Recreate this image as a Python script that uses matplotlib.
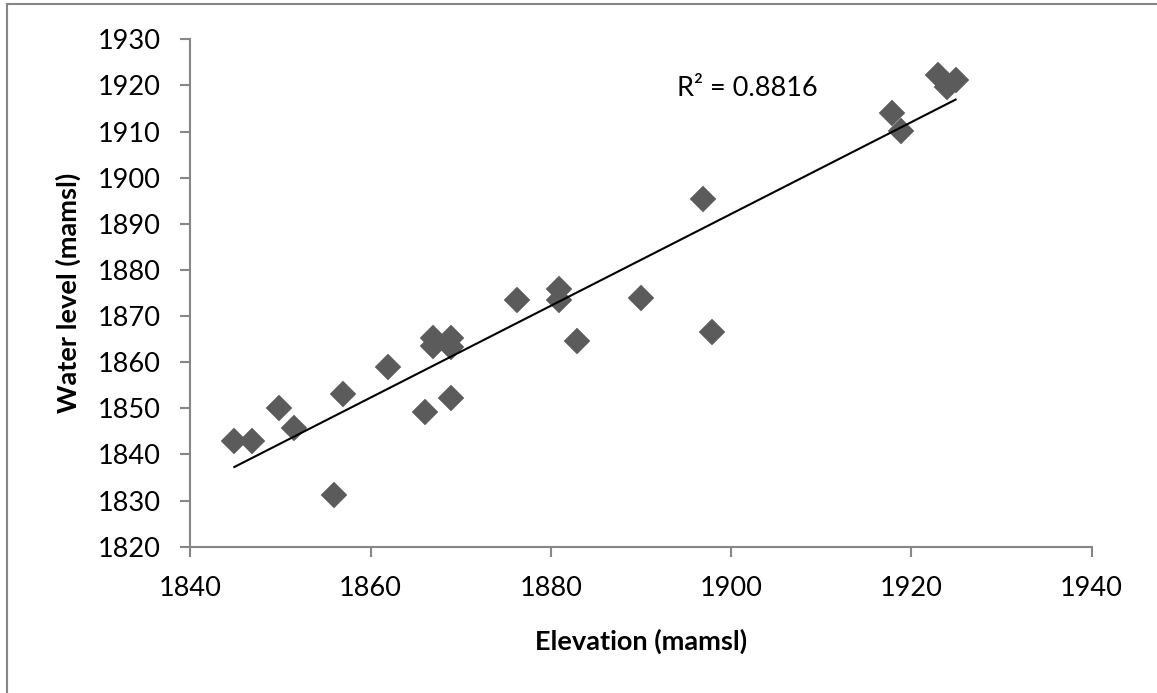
import numpy as np
import matplotlib
matplotlib.use("Agg")
import matplotlib.pyplot as plt
from matplotlib.patches import Rectangle

# ---- data ----
elevation = [1844.9, 1846.9, 1849.9, 1851.5, 1856.0, 1856.9, 1861.9, 1866.0,
             1866.9, 1866.9, 1868.9, 1868.9, 1868.9, 1876.2, 1880.9, 1880.9,
             1882.9, 1890.0, 1896.9, 1897.9, 1917.9, 1918.9, 1922.9, 1923.9,
             1924.9]
water_level = [1842.9, 1842.9, 1850.1, 1845.8, 1831.3, 1853.0, 1859.0, 1849.3,
               1865.2, 1863.5, 1865.2, 1863.4, 1852.2, 1873.5, 1875.8, 1873.5,
               1864.6, 1873.9, 1895.3, 1866.6, 1914.0, 1910.2, 1922.3, 1919.7,
               1921.2]
x_ticks = [1840, 1860, 1880, 1900, 1920, 1940]
y_ticks = [1820, 1830, 1840, 1850, 1860, 1870, 1880, 1890, 1900, 1910, 1920, 1930]
x_label = "Elevation (mamsl)"
y_label = "Water level (mamsl)"
r2_label = "R\u00b2 = 0.8816"

plt.rcParams['font.family'] = ['Lato', 'DejaVu Sans']

W, H = 1157, 693
fig = plt.figure(figsize=(W / 100, H / 100), dpi=100)
fig.patch.set_facecolor('white')

# outer chart border (only top/left visible in reference)
fig.patches.append(Rectangle((6.5 / W, -0.1), 1.2, (H - 4.0) / H + 0.1,
                             transform=fig.transFigure, fill=False,
                             edgecolor='#868686', linewidth=1.5))

left, right = 190.2, 1091.7
top, bottom = 39.3, 546.7
ax = fig.add_axes([left / W, (H - bottom) / H, (right - left) / W, (bottom - top) / H])

x = np.array(elevation)
y = np.array(water_level)
ax.plot(x, y, linestyle='none', marker='D', markersize=13,
        markerfacecolor='#5b5b5b', markeredgecolor='#5b5b5b', markeredgewidth=0.3,
        zorder=3)

coef = np.polyfit(x, y, 1)
xl = np.array([x.min(), x.max()])
ax.plot(xl, np.polyval(coef, xl), color='black', linewidth=1.5, zorder=4)

ax.text(0.5397, 0.9034, r2_label, transform=ax.transAxes, ha='left', va='center',
        fontsize=19.5, color='black')

ax.set_xlim(1840, 1940)
ax.set_ylim(1820, 1930)
ax.set_xticks(x_ticks)
ax.set_yticks(y_ticks)
ax.set_xticklabels([str(t) for t in x_ticks])
ax.set_yticklabels([str(t) for t in y_ticks])

for s in ['top', 'right']:
    ax.spines[s].set_visible(False)
for s in ['left', 'bottom']:
    ax.spines[s].set_color('#868686')
    ax.spines[s].set_linewidth(1.5)

ax.tick_params(axis='both', direction='out', length=7, width=1.5, color='#868686',
               labelsize=19.5, labelcolor='black')
ax.tick_params(axis='x', pad=14)
ax.tick_params(axis='y', pad=14)

ax.set_xlabel(x_label, fontsize=19.5, fontweight='bold')
ax.set_ylabel(y_label, fontsize=19.5, fontweight='bold')
ax.xaxis.set_label_coords(0.5, -(641 - bottom) / (bottom - top))
ax.yaxis.set_label_coords(-(left - 68) / (right - left), 0.5)
ax.xaxis.label.set_va('center')
ax.yaxis.label.set_va('center')

fig.savefig('out.png', dpi=100, facecolor='white')
